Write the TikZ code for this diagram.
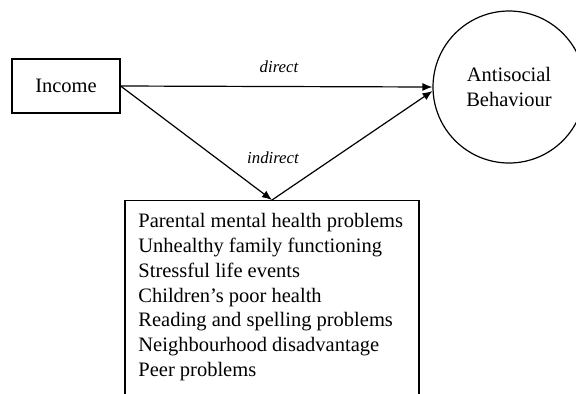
\documentclass[tikz,border=0pt]{standalone}
\usepackage{fontspec}
\setmainfont{Liberation Serif}
\usetikzlibrary{arrows.meta}
\begin{document}
\begin{tikzpicture}
[x=0.5pt,y=-0.5pt,
 every node/.style={font=\fontsize{10.25}{12.4}\selectfont},
 box/.style={draw,line width=0.6pt,inner sep=0pt},
 pathlabel/.style={font=\fontsize{8.4}{10}\selectfont\itshape,inner sep=0pt},
 arrow/.style={line width=0.6pt,-{Latex[length=5pt,width=4pt]}}]
       \useasboundingbox (0,0) rectangle (576,393);
       \node (income) at (66,86) [box,minimum width=54pt,minimum height=27pt] {Income};
       \node (behav) at (509,87) [box,circle,minimum size=76pt,align=center] {Antisocial\\Behaviour};
       \node (factors) at (272,200) [box,anchor=north,minimum width=147pt,minimum height=130pt] {};
       \node (items) at (138,213) [anchor=north west,inner sep=0pt,align=left]
       {Parental mental health problems\\
        Unhealthy family functioning\\
        Stressful life events\\
        Children’s poor health\\
        Reading and spelling problems\\
        Neighbourhood disadvantage\\
        Peer problems};
       \node (direct) at (279,67) [pathlabel] {direct};
       \node (indirect) at (273,158) [pathlabel] {indirect};
       \draw[arrow] (income.east) -- (behav.west);
       \draw[arrow] (income.east) -- (factors.north);
       \draw[arrow] (factors.north) -- (behav.183);
    \end{tikzpicture}
\end{document}
